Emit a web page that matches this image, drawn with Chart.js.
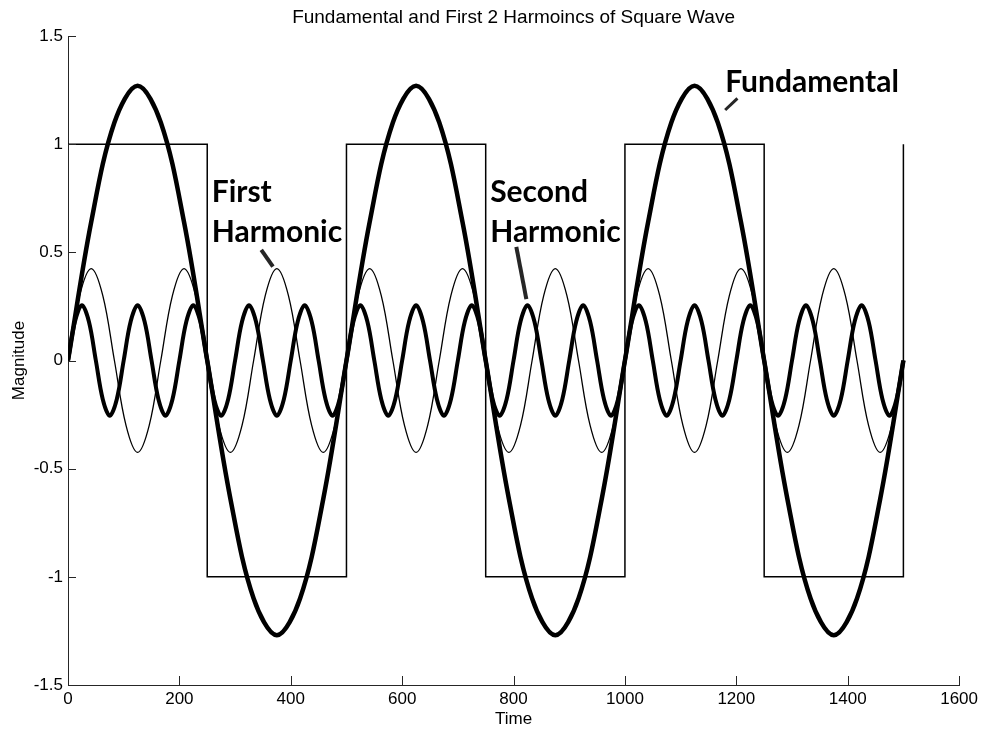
<!DOCTYPE html>
<html>
<head>
<meta charset="utf-8">
<title>Square Wave Harmonics</title>
<script src="https://cdn.jsdelivr.net/npm/chart.js@4.4.1/dist/chart.umd.min.js"></script>
<style>
  body { margin: 0; background: #fff; }
  canvas { display: block; }
</style>
</head>
<body>
<canvas id="wave_chart" width="982" height="729"></canvas>
<script>
// values
var xTicks = [0, 200, 400, 600, 800, 1000, 1200, 1400, 1600];
var yTicks = [-1.5, -1, -0.5, 0, 0.5, 1, 1.5];

var squareTime = [0, 250, 250, 500, 500, 750, 750, 1000, 1000, 1250, 1250, 1500, 1500];
var squareVals = [1, 1, -1, -1, 1, 1, -1, -1, 1, 1, -1, -1, 1];

// fundamental, sampled every 41.667
var fundStep = 41.667;
var fundVals = [
  0, 0.64, 1.1, 1.27, 1.1, 0.64, 0, -0.64, -1.1, -1.27, -1.1, -0.64,
  0, 0.64, 1.1, 1.27, 1.1, 0.64, 0, -0.64, -1.1, -1.27, -1.1, -0.64,
  0, 0.64, 1.1, 1.27, 1.1, 0.64, 0, -0.64, -1.1, -1.27, -1.1, -0.64,
  0
];

// "first harmonic" (thin), sampled every 20.833
var firstStep = 20.833;
var firstVals = [
  0, 0.3, 0.425, 0.3, 0, -0.3, -0.425, -0.3,
  0, 0.3, 0.425, 0.3, 0, -0.3, -0.425, -0.3,
  0, 0.3, 0.425, 0.3, 0, -0.3, -0.425, -0.3,
  0, 0.3, 0.425, 0.3, 0, -0.3, -0.425, -0.3,
  0, 0.3, 0.425, 0.3, 0, -0.3, -0.425, -0.3,
  0, 0.3, 0.425, 0.3, 0, -0.3, -0.425, -0.3,
  0, 0.3, 0.425, 0.3, 0, -0.3, -0.425, -0.3,
  0, 0.3, 0.425, 0.3, 0, -0.3, -0.425, -0.3,
  0, 0.3, 0.425, 0.3, 0, -0.3, -0.425, -0.3,
  0
];

// "second harmonic" (thick), sampled every 12.5
var secondStep = 12.5;
var secondVals = [
  0, 0.18, 0.255, 0.18, 0, -0.18, -0.255, -0.18,
  0, 0.18, 0.255, 0.18, 0, -0.18, -0.255, -0.18,
  0, 0.18, 0.255, 0.18, 0, -0.18, -0.255, -0.18,
  0, 0.18, 0.255, 0.18, 0, -0.18, -0.255, -0.18,
  0, 0.18, 0.255, 0.18, 0, -0.18, -0.255, -0.18,
  0, 0.18, 0.255, 0.18, 0, -0.18, -0.255, -0.18,
  0, 0.18, 0.255, 0.18, 0, -0.18, -0.255, -0.18,
  0, 0.18, 0.255, 0.18, 0, -0.18, -0.255, -0.18,
  0, 0.18, 0.255, 0.18, 0, -0.18, -0.255, -0.18,
  0, 0.18, 0.255, 0.18, 0, -0.18, -0.255, -0.18,
  0, 0.18, 0.255, 0.18, 0, -0.18, -0.255, -0.18,
  0, 0.18, 0.255, 0.18, 0, -0.18, -0.255, -0.18,
  0, 0.18, 0.255, 0.18, 0, -0.18, -0.255, -0.18,
  0, 0.18, 0.255, 0.18, 0, -0.18, -0.255, -0.18,
  0, 0.18, 0.255, 0.18, 0, -0.18, -0.255, -0.18,
  0
];

var titleText = "Fundamental and First 2 Harmoincs of Square Wave";
var xTitle = "Time";
var yTitle = "Magnitude";

// text labels, anchored in data units: [lines, x, y of first baseline]
var notes = [
  { lines: ["Fundamental"], x: 1180, y: 1.241, from: [1202, 1.212], to: [1180, 1.158], lw: 3 },
  { lines: ["First", "Harmonic"], x: 258, y: 0.734, from: [347, 0.511], to: [368, 0.434], lw: 4 },
  { lines: ["Second", "Harmonic"], x: 758, y: 0.733, from: [805, 0.525], to: [823, 0.284], lw: 4 }
];

function pairs(xs, ys){
  var out = [];
  for (var i = 0; i < ys.length; i++) out.push({x: xs[i], y: ys[i]});
  return out;
}
function sampled(step, ys){
  var out = [];
  for (var i = 0; i < ys.length; i++) out.push({x: i * step, y: ys[i]});
  return out;
}

var tickFont = { family: "'Liberation Sans', Arial, sans-serif", size: 17 };
var axisColor = "#262626";

var extras = {
  id: "matlab_extras",
  afterDraw: function(chart){
    var ctx = chart.ctx;
    var xs = chart.scales.x, ys = chart.scales.y;
    var area = chart.chartArea;
    ctx.save();
    // inward tick marks
    ctx.strokeStyle = axisColor;
    ctx.lineWidth = 1;
    ctx.beginPath();
    xTicks.forEach(function(v){
      var px = Math.round(xs.getPixelForValue(v)) + 0.5;
      ctx.moveTo(px, area.bottom);
      ctx.lineTo(px, area.bottom - 9);
    });
    yTicks.forEach(function(v){
      var py = Math.round(ys.getPixelForValue(v)) + 0.5;
      ctx.moveTo(area.left, py);
      ctx.lineTo(area.left + 8, py);
    });
    ctx.stroke();

    // title and axis titles
    ctx.fillStyle = "#000";
    ctx.textAlign = "center";
    ctx.textBaseline = "alphabetic";
    ctx.font = "19px 'Liberation Sans', Arial, sans-serif";
    ctx.fillText(titleText, (area.left + area.right) / 2, 23);
    ctx.font = "17px 'Liberation Sans', Arial, sans-serif";
    ctx.fillText(xTitle, (area.left + area.right) / 2, 724);
    ctx.save();
    ctx.translate(24, (area.top + area.bottom) / 2);
    ctx.rotate(-Math.PI / 2);
    ctx.fillText(yTitle, 0, 0);
    ctx.restore();

    // annotations with leader lines
    ctx.textAlign = "left";
    ctx.font = "bold 30px Lato, 'Open Sans', sans-serif";
    notes.forEach(function(n){
      var tx = xs.getPixelForValue(n.x);
      var ty = ys.getPixelForValue(n.y);
      n.lines.forEach(function(line, i){
        ctx.fillText(line, tx, ty + i * 40);
      });
      ctx.lineWidth = n.lw;
      ctx.beginPath();
      ctx.moveTo(xs.getPixelForValue(n.from[0]), ys.getPixelForValue(n.from[1]));
      ctx.lineTo(xs.getPixelForValue(n.to[0]), ys.getPixelForValue(n.to[1]));
      ctx.stroke();
    });
    ctx.restore();
  }
};

var wavectx = document.getElementById("wave_chart");
var wavechart = new Chart(wavectx, {
  type: 'line',
  data: {
    datasets: [
      {
        label: "Square",
        data: pairs(squareTime, squareVals),
        borderColor: "#000",
        borderWidth: 1.5,
        tension: 0
      },
      {
        label: "Fundamental",
        data: sampled(fundStep, fundVals),
        borderColor: "#000",
        borderWidth: 4.5,
        tension: 0.35
      },
      {
        label: "First Harmonic",
        data: sampled(firstStep, firstVals),
        borderColor: "#000",
        borderWidth: 1.3,
        tension: 0.35
      },
      {
        label: "Second Harmonic",
        data: sampled(secondStep, secondVals),
        borderColor: "#000",
        borderWidth: 4,
        tension: 0.35
      }
    ]
  },
  options: {
    responsive: false,
    animation: false,
    events: [],
    layout: { padding: { top: 36, right: 22, left: 0, bottom: 0 } },
    elements: { point: { radius: 0 } },
    plugins: {
      legend: { display: false },
      tooltip: { enabled: false },
      title: { display: false }
    },
    scales: {
      x: {
        type: 'linear',
        min: 0,
        max: 1600,
        afterFit: function(scale){ scale.height = 44; },
        afterBuildTicks: function(scale){
          scale.ticks = xTicks.map(function(v){ return {value: v}; });
        },
        grid: { display: false, drawTicks: false },
        border: { display: true, color: axisColor, width: 1 },
        ticks: {
          color: "#000",
          font: tickFont,
          padding: 4,
          maxRotation: 0,
          callback: function(v){ return String(v); }
        }
      },
      y: {
        type: 'linear',
        min: -1.5,
        max: 1.5,
        afterFit: function(scale){ scale.width = 68; },
        afterBuildTicks: function(scale){
          scale.ticks = yTicks.map(function(v){ return {value: v}; });
        },
        grid: { display: false, drawTicks: false },
        border: { display: true, color: axisColor, width: 1 },
        ticks: {
          color: "#000",
          font: tickFont,
          padding: 5,
          callback: function(v){ return String(v); }
        }
      }
    }
  },
  plugins: [extras]
});
</script>
</body>
</html>
